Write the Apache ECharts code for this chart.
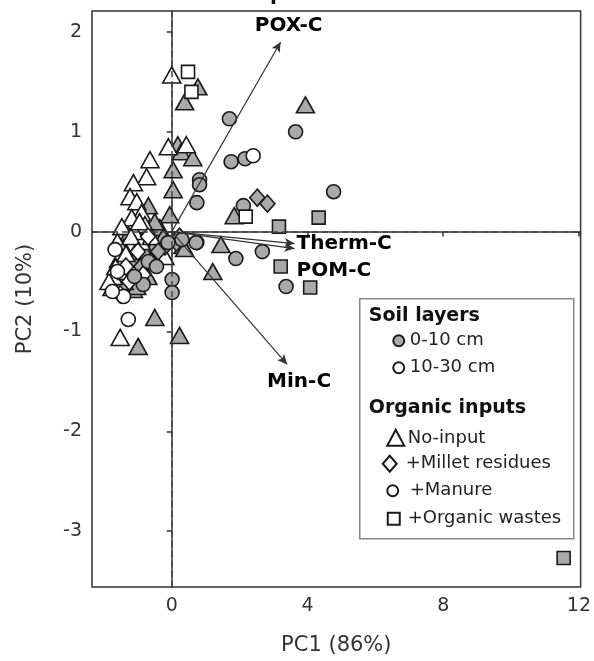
<!DOCTYPE html>
<html>
<head>
<meta charset="utf-8">
<script src="https://cdn.jsdelivr.net/npm/echarts@6/dist/echarts.min.js"></script>
<style>
  html, body { margin: 0; padding: 0; background: #fff; }
  #chart { width: 594px; height: 661px; }
</style>
</head>
<body>
<div id="chart"></div>
<script>
// PCA scores, [PC1, PC2]
const noInputTop = [
  [0.77, 1.45], [0.38, 1.30], [0.18, 0.87], [0.28, 0.80], [0.62, 0.74], [0.04, 0.62],
  [0.04, 0.42], [3.94, 1.27], [1.84, 0.16], [1.45, -0.13], [1.21, -0.40], [0.33, -0.14],
  [0.38, -0.17], [-0.50, -0.86], [-0.99, -1.15], [0.23, -1.04], [-0.69, 0.26], [-0.06, 0.17],
  [-0.35, 0.04], [-1.28, -0.03], [-0.55, -0.16], [-1.08, -0.28], [-1.13, -0.58], [-1.28, -0.43],
  [-1.03, -0.55], [-0.80, -0.20], [-0.25, -0.05], [-1.40, -0.50], [-0.70, -0.45], [-0.95, -0.40],
  [-0.50, 0.10]
]
const noInputSub = [
  [0.00, 1.57], [-0.10, 0.85], [0.43, 0.87], [-0.64, 0.72], [-0.74, 0.55], [-1.13, 0.49],
  [-1.23, 0.35], [-1.03, 0.30], [-0.89, 0.19], [-1.18, 0.14], [-1.47, 0.05], [-0.79, 0.07],
  [-1.42, -0.16], [-1.57, -0.28], [-0.20, -0.25], [-1.72, -0.45], [-1.76, -0.56], [-1.52, -1.06],
  [-1.33, -0.40], [-0.90, -0.10], [-1.10, 0.00], [-0.60, -0.05], [-1.60, -0.10], [-1.85, -0.50],
  [-1.65, -0.35], [-1.35, -0.22], [-1.20, -0.05], [-0.95, 0.10]
]
const manureTop = [
  [1.70, 1.13], [3.65, 1.00], [4.77, 0.40], [1.75, 0.70], [2.16, 0.73], [0.82, 0.52],
  [0.82, 0.47], [0.74, 0.29], [2.11, 0.26], [0.74, -0.11], [1.89, -0.27], [2.67, -0.20],
  [3.37, -0.55], [0.01, -0.48], [0.01, -0.61], [-0.69, -0.30], [-0.84, -0.53], [-0.11, -0.11],
  [0.72, -0.11], [0.30, -0.08], [-0.45, -0.35], [-1.10, -0.45]
]
const manureSub = [[2.40, 0.76], [-1.28, -0.88], [-1.67, -0.18], [-1.42, -0.65], [-1.60, -0.40], [-1.75, -0.60]]
const milletTop = [[2.52, 0.34], [2.82, 0.28], [-0.20, -0.15], [0.14, -0.11], [0.23, -0.05], [-0.40, -0.20], [-0.90, -0.35]]
const milletSub = [[-0.84, -0.43], [-1.52, -0.63], [-1.00, -0.20], [-0.70, -0.05], [-1.25, -0.50], [-1.35, -0.35], [-0.60, -0.30]]
const wastesTop = [[3.16, 0.05], [4.33, 0.14], [3.21, -0.35], [4.08, -0.56], [11.55, -3.27]]
const wastesSub = [[0.48, 1.60], [0.58, 1.40], [2.18, 0.15]]

// loading vectors
const loadingNames = ['POX-C', 'Therm-C', 'POM-C', 'Min-C']
const loadingTips = [[3.21, 1.90], [3.62, -0.12], [3.62, -0.17], [3.40, -1.33]]

const xTicks = [0, 4, 8, 12]
const yTicks = [-3, -2, -1, 0, 1, 2]

const GRAY = '#a9a9a9'
const INK = '#1a1a1a'
const FONT = 'DejaVu Sans'

const chart = echarts.init(document.getElementById('chart'))

const scatter = (name, data, symbol, size, fill) => ({
  name,
  type: 'scatter',
  data,
  symbol,
  symbolSize: size,
  z: 3,
  itemStyle: { color: fill, borderColor: INK, borderWidth: 1.6, opacity: 1 }
})

const labelOffsets = [[8, -16], [2, 0], [2, 22], [12, 17]]
const labelAlign = ['center', 'left', 'left', 'center']

const axisText = { color: '#333', fontFamily: FONT, fontSize: 19 }

const option = {
  animation: false,
  grid: { left: 92, right: 10, top: 11, bottom: 73, show: true, borderColor: '#333', borderWidth: 1.5 },
  xAxis: {
    type: 'value', min: -2.35, max: 12.05,
    name: 'PC1 (86%)', nameLocation: 'middle', nameGap: 48,
    nameTextStyle: { color: '#333', fontFamily: FONT, fontSize: 21 },
    axisLine: { lineStyle: { color: '#333', width: 1.5 } },
    axisTick: { customValues: xTicks, length: 5, lineStyle: { color: '#333', width: 1.5 } },
    axisLabel: { customValues: xTicks, margin: 10, ...axisText },
    splitLine: { show: false }
  },
  yAxis: {
    type: 'value', min: -3.56, max: 2.21,
    name: 'PC2 (10%)', nameLocation: 'middle', nameGap: 56,
    nameTextStyle: { color: '#333', fontFamily: FONT, fontSize: 21 },
    axisLine: { lineStyle: { color: '#333', width: 1.5 } },
    axisTick: { customValues: yTicks, length: 5, lineStyle: { color: '#333', width: 1.5 } },
    axisLabel: { customValues: yTicks, margin: 10, ...axisText },
    splitLine: { show: false }
  },
  series: [
    {
      type: 'scatter', data: [], z: 1, silent: true,
      markLine: {
        silent: true, symbol: 'none', animation: false,
        label: { show: false },
        lineStyle: { color: '#444', type: [6, 4], width: 1.5 },
        data: [{ xAxis: 0 }, { yAxis: 0 }]
      }
    },
    {
      type: 'scatter', data: [], z: 2, silent: true,
      markLine: {
        silent: true, animation: false,
        symbol: ['none', 'arrow'], symbolSize: [7, 10],
        label: { show: false },
        lineStyle: { color: '#333', type: 'solid', width: 1.2 },
        data: loadingTips.map(t => [{ coord: [0, 0] }, { coord: t }])
      }
    },
    scatter('No-input 0-10', noInputTop, 'triangle', [18, 16], GRAY),
    scatter('No-input 10-30', noInputSub, 'triangle', [18, 16], '#fff'),
    scatter('Millet 0-10', milletTop, 'diamond', [15, 17], GRAY),
    scatter('Millet 10-30', milletSub, 'diamond', [15, 17], '#fff'),
    scatter('Manure 0-10', manureTop, 'circle', 14, GRAY),
    scatter('Manure 10-30', manureSub, 'circle', 14, '#fff'),
    scatter('Wastes 0-10', wastesTop, 'rect', 13, GRAY),
    scatter('Wastes 10-30', wastesSub, 'rect', 13, '#fff'),
    {
      type: 'scatter', z: 5, silent: true, symbolSize: 0,
      itemStyle: { color: '#111' },
      data: loadingTips.map((t, i) => ({
        value: t,
        label: {
          show: true, formatter: loadingNames[i], position: 'inside',
          offset: labelOffsets[i], align: labelAlign[i],
          color: '#000', opacity: 1, fontFamily: FONT, fontWeight: 'bold', fontSize: 20
        }
      }))
    }
  ],
  graphic: [
    // cut-off title fragment
    { type: 'text', left: 270, top: -15, style: { text: 'p', font: 'bold 20px "DejaVu Sans"', fill: '#111' } },
    {
      type: 'group', left: 359, top: 298,
      children: [
        { type: 'rect', shape: { x: 0, y: 0, width: 214, height: 240 }, style: { fill: '#fff', stroke: '#888', lineWidth: 1.5 } },
        { type: 'text', x: 9, y: 17, style: { text: 'Soil layers', font: 'bold 19px "DejaVu Sans"', fill: '#111', verticalAlign: 'middle' } },
        { type: 'circle', shape: { cx: 39, cy: 42, r: 5.5 }, style: { fill: GRAY, stroke: INK, lineWidth: 2 } },
        { type: 'text', x: 50, y: 42, style: { text: '0-10 cm', font: '18px "DejaVu Sans"', fill: '#222', verticalAlign: 'middle' } },
        { type: 'circle', shape: { cx: 39, cy: 69, r: 5.5 }, style: { fill: '#fff', stroke: INK, lineWidth: 2 } },
        { type: 'text', x: 50, y: 69, style: { text: '10-30 cm', font: '18px "DejaVu Sans"', fill: '#222', verticalAlign: 'middle' } },
        { type: 'text', x: 9, y: 109, style: { text: 'Organic inputs', font: 'bold 19px "DejaVu Sans"', fill: '#111', verticalAlign: 'middle' } },
        { type: 'polygon', shape: { points: [[36, 131], [44.5, 147], [27.5, 147]] }, style: { fill: '#fff', stroke: INK, lineWidth: 2 } },
        { type: 'text', x: 48, y: 140, style: { text: 'No-input', font: '18px "DejaVu Sans"', fill: '#222', verticalAlign: 'middle' } },
        { type: 'polygon', shape: { points: [[30, 157], [37, 165], [30, 173], [23, 165]] }, style: { fill: '#fff', stroke: INK, lineWidth: 2 } },
        { type: 'text', x: 46, y: 165, style: { text: '+Millet residues', font: '18px "DejaVu Sans"', fill: '#222', verticalAlign: 'middle' } },
        { type: 'circle', shape: { cx: 33, cy: 192, r: 5.5 }, style: { fill: '#fff', stroke: INK, lineWidth: 2 } },
        { type: 'text', x: 50, y: 192, style: { text: '+Manure', font: '18px "DejaVu Sans"', fill: '#222', verticalAlign: 'middle' } },
        { type: 'rect', shape: { x: 28, y: 214, width: 12, height: 12 }, style: { fill: '#fff', stroke: INK, lineWidth: 2 } },
        { type: 'text', x: 48, y: 220, style: { text: '+Organic wastes', font: '18px "DejaVu Sans"', fill: '#222', verticalAlign: 'middle' } }
      ]
    }
  ]
}

chart.setOption(option)
</script>
</body>
</html>
